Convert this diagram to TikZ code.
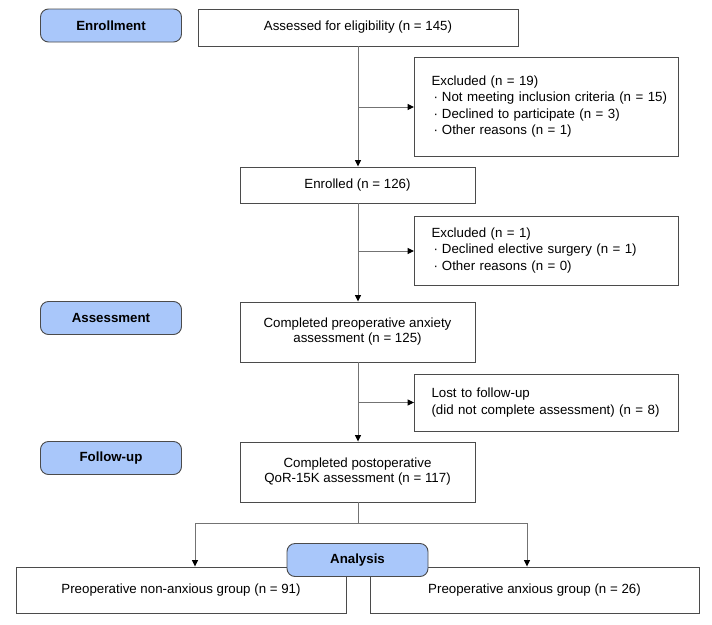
\documentclass[tikz,border=0pt]{standalone}
\usepackage{fontspec}
\setmainfont{Liberation Sans}
\usetikzlibrary{arrows.meta,positioning}
\definecolor{phase}{RGB}{169,199,250}
\definecolor{edge}{RGB}{75,75,75}
\definecolor{wire}{RGB}{115,115,115}
\newcommand\ind{\hspace*{17pt}}
\newcommand\blt{\hspace*{2pt}·\hspace{4pt}}
\begin{document}
\begin{tikzpicture}[x=1pt,y=-1pt,
  every node/.style={font=\fontsize{13.3}{15}\selectfont, text=black},
  mainbox/.style={draw=edge, line width=0.9pt, rectangle, inner sep=0pt, align=center},
  sidebox/.style={draw=edge, line width=0.9pt, rectangle, inner sep=0pt, align=left, text width=264pt, minimum width=264pt, font=\fontsize{13.3}{16.2}\selectfont},
  phasebox/.style={draw=edge, line width=0.9pt, fill=phase, rounded corners=8pt, minimum width=141pt, minimum height=33pt, inner sep=0pt, font=\fontsize{13.3}{15}\selectfont\bfseries},
  conn/.style={draw=wire, line width=1pt},
  arr/.style={conn, -{Triangle[length=6.5pt,width=6pt,color=black]}}
]
\useasboundingbox (0,0) rectangle (712,624);
\fill[white] (0,0) rectangle (712,624);

% phase labels
\node[phasebox] (enroll) at (111,25.5) {Enrollment};
\node[phasebox] (assess) at (111,318) {Assessment};
\node[phasebox] (follow) at (111,458) {Follow-up};

% main column
\node[mainbox, minimum width=320pt, minimum height=37pt] (elig) at (358,27.5) {Assessed for eligibility (n = 145)};
\node[mainbox, minimum width=235pt, minimum height=36pt] (enrolled) at (357.5,185) {Enrolled (n = 126)};
\node[mainbox, minimum width=235pt, minimum height=60pt] (preop) at (357.5,332) {Completed preoperative anxiety\\assessment (n = 125)};
\node[mainbox, minimum width=235pt, minimum height=60pt] (postop) at (357.5,472) {Completed postoperative\\QoR-15K assessment (n = 117)};

% side boxes
\node[sidebox, minimum height=99pt] (excl1) at (546.5,106.5) {\ind Excluded (n = 19)\\
\ind\blt Not meeting inclusion criteria (n = 15)\\
\ind\blt Declined to participate (n = 3)\\
\ind\blt Other reasons (n = 1)};
\node[sidebox, minimum height=69pt] (excl2) at (546.5,250.5) {\ind Excluded (n = 1)\\
\ind\blt Declined elective surgery (n = 1)\\
\ind\blt Other reasons (n = 0)};
\node[sidebox, minimum height=57pt] (lost) at (546.5,402.5) {\ind Lost to follow-up\\\ind (did not complete assessment) (n = 8)};

% groups
\node[mainbox, minimum width=330pt, minimum height=46pt] (nonanx) at (181,590) {Preoperative non-anxious group (n = 91)};
\node[mainbox, minimum width=329pt, minimum height=46pt] (anx) at (534.5,590) {Preoperative anxious group (n = 26)};

% connectors
\coordinate (b1) at (358,107);
\coordinate (b2) at (358,251);
\coordinate (b3) at (358,402.5);
\coordinate (split) at (358,523);

\draw[arr] (elig.south -| b1) -- (enrolled.north -| b1);
\draw[arr] (b1) -- (excl1.west |- b1);
\draw[arr] (enrolled.south -| b2) -- (preop.north -| b2);
\draw[arr] (b2) -- (excl2.west |- b2);
\draw[arr] (preop.south -| b3) -- (postop.north -| b3);
\draw[arr] (b3) -- (lost.west |- b3);
\draw[conn] (postop.south -| split) -- (split);
\draw[arr] (split) -| ([xshift=14pt]nonanx.north);
\draw[arr] (split) -| ([xshift=-7.5pt]anx.north);

\node[phasebox] (analysis) at (357.5,560) {Analysis};
\end{tikzpicture}
\end{document}
